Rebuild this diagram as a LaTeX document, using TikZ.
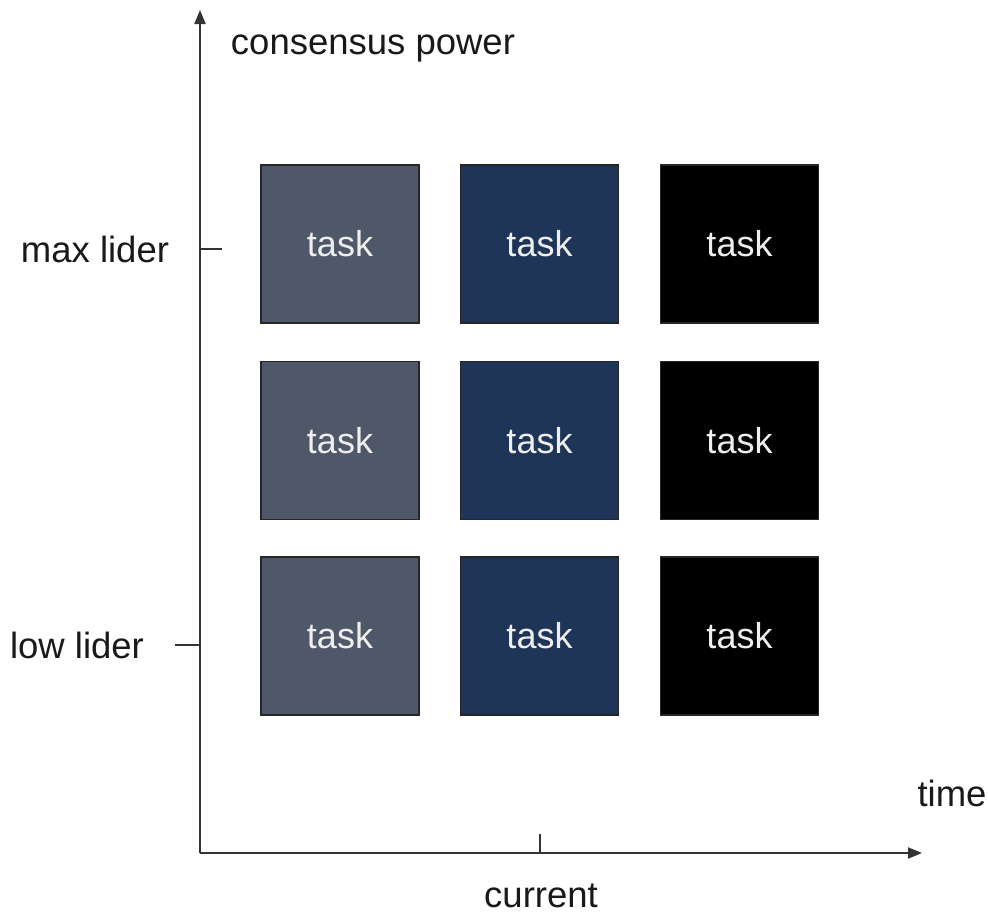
\documentclass[tikz,border=0pt]{standalone}
\usepackage{fontspec}
\setmainfont{Liberation Sans}
\usetikzlibrary{arrows.meta}
\definecolor{colA}{HTML}{4F5868}
\definecolor{colB}{HTML}{1F3558}
\definecolor{colC}{HTML}{000000}
\definecolor{tasktext}{HTML}{EEEEEE}
\tikzset{
  taskbox/.style={draw=black!85, line width=1.5pt, minimum width=158pt, minimum height=158pt, inner sep=0pt, text=tasktext, font=\fontsize{36}{40}\selectfont, anchor=center},
  axis/.style={line width=2pt, draw=black!80, -{Triangle[length=14pt,width=11pt]}},
  tickline/.style={line width=1.5pt, draw=black!80},
  lbl/.style={font=\fontsize{36.5}{40}\selectfont, text=black!90, inner sep=0pt}
}
\begin{document}
\begin{tikzpicture}[x=1pt,y=-1pt]
\useasboundingbox (0,0) rectangle (988,916);
\fill[white] (0,0) rectangle (988,916);
\coordinate (O) at (200,853);
\coordinate (ytop) at (200,10);
\coordinate (xend) at (922,853);
\draw[axis] (O) -- (ytop);
\draw[axis] (O) -- (xend);
% ticks
\coordinate (tmax1) at (200,249);
\coordinate (tmax2) at (222,249);
\coordinate (tlow1) at (175,645);
\coordinate (tlow2) at (200,645);
\coordinate (tcur1) at (540,834);
\coordinate (tcur2) at (540,853);
\draw[tickline] (tmax1) -- (tmax2);
\draw[tickline] (tlow1) -- (tlow2);
\draw[tickline] (tcur1) -- (tcur2);
% labels
\node[lbl, anchor=base] (ylab) at (373,54) {consensus power};
\node[lbl] (maxl) at (95,249) {max lider};
\node[lbl] (lowl) at (77,645) {low lider};
\node[lbl] (xlab) at (952,793) {time};
\node[lbl, anchor=base] (curl) at (541,907) {current};
% boxes
\node[taskbox, fill=colA] (a1) at (340,244) {task};
\node[taskbox, fill=colB] (b1) at (539.5,244) {task};
\node[taskbox, fill=colC] (c1) at (739.5,244) {task};
\node[taskbox, fill=colA] (a2) at (340,440.5) {task};
\node[taskbox, fill=colB] (b2) at (539.5,440.5) {task};
\node[taskbox, fill=colC] (c2) at (739.5,440.5) {task};
\node[taskbox, fill=colA] (a3) at (340,636) {task};
\node[taskbox, fill=colB] (b3) at (539.5,636) {task};
\node[taskbox, fill=colC] (c3) at (739.5,636) {task};
\end{tikzpicture}
\end{document}
